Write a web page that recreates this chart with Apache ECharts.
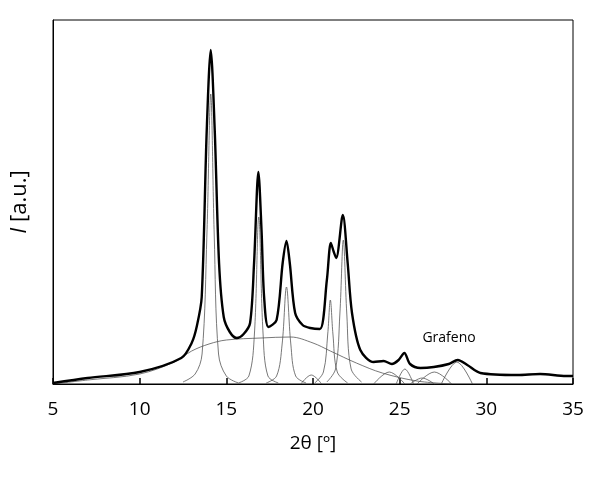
<!DOCTYPE html>
<html>
<head>
<meta charset="utf-8">
<script src="https://cdn.jsdelivr.net/npm/echarts@6/dist/echarts.min.js"></script>
<style>html,body{margin:0;padding:0;background:#fff}#chart{width:600px;height:487px}</style>
</head>
<body>
<div id="chart"></div>
<script>
// difractograma total y componentes del ajuste (2θ, intensidad)
var total = [[5,1],[7,6],[10,12],[12.4,26],[13,41],[13.3,58],[13.58,87],[13.87,254],[14.1,334],[14.33,254],[14.58,121],[14.85,67],[15.2,52],[15.6,46],[16,50],[16.37,61],[16.6,121],[16.85,212],[17.03,154],[17.18,87],[17.43,57],[17.9,64],[18.25,121],[18.47,143],[18.66,121],[18.97,71],[19.4,59],[19.84,56],[20.4,55],[20.8,104],[21.03,141],[21.2,132],[21.34,126],[21.72,169],[22.0,121],[22.25,71],[22.73,34],[23.5,22],[24.07,23],[24.55,20],[24.94,24],[25.27,31],[25.6,20],[26.2,16],[26.97,17],[27.83,20],[28.35,24],[28.9,19],[29.66,11],[31.8,9],[33.1,10],[34.6,8],[35,8]];
var amorfo = [[5,0],[7,4],[10,10],[12,22],[13,33],[14,40],[15,44],[17,46],[18.7,47],[20,41],[21,33],[22.5,21],[24,11],[26,3],[28,0]];
var p1 = [[12.5,2],[13.2,10],[13.6,30],[13.88,150],[14.1,290],[14.3,150],[14.55,30],[15,8],[15.7,1]];
var p2 = [[15.7,1],[16.3,8],[16.62,50],[16.87,167],[17.12,50],[17.4,8],[18,1]];
var p3 = [[17.3,1],[17.9,8],[18.22,40],[18.47,97],[18.72,40],[19,8],[19.6,1]];
var p4 = [[19.3,0],[19.9,9],[20.5,0]];
var p5 = [[20.1,1],[20.6,12],[20.85,50],[21.0,84],[21.15,50],[21.4,12],[22,1]];
var p6 = [[20.8,2],[21.3,15],[21.55,70],[21.75,144],[21.95,70],[22.2,15],[22.8,2]];
var p7 = [[23.5,0],[24.4,12],[25.3,0]];
var p8 = [[24.8,0],[25.3,15],[25.8,0]];
var p9 = [[25.6,0],[26.3,6],[27,0]];
var p10 = [[26,0],[27,12],[28,0]];
var p11 = [[27.4,0],[28.3,22],[29.2,0]];
var xTicks = [5,10,15,20,25,30,35];

var chart = echarts.init(document.getElementById('chart'));
var comps = [amorfo,p1,p2,p3,p4,p5,p6,p7,p8,p9,p10,p11].map(function (d) {
    return {type:'line', data:d, smooth:0.35, symbol:'none', silent:true,
        lineStyle:{color:'#555', width:0.8}};
});
comps.push({type:'line', data:total, smooth:0.3, symbol:'none', z:5,
    lineStyle:{color:'#000', width:2.4},
    markPoint:{symbol:'circle', symbolSize:0, silent:true,
        data:[{coord:[27.85,46], label:{show:true, formatter:'Grafeno', color:'#000', fontSize:14, fontFamily:'Open Sans'}}]}});
chart.setOption({
    animation:false,
    grid:{left:53, right:27, top:20, bottom:103, show:true, borderColor:'#000', borderWidth:1},
    xAxis:{type:'value', min:5, max:35, interval:5,
        name:'2θ [º]', nameLocation:'middle', nameGap:50,
        nameTextStyle:{fontSize:19, color:'#000', fontFamily:'Open Sans'},
        axisLine:{lineStyle:{color:'#000'}},
        axisTick:{inside:true, length:6, lineStyle:{color:'#000', width:1.5}},
        axisLabel:{fontSize:19, color:'#000', margin:16, fontFamily:'Open Sans',
            formatter:function (v) { return xTicks.indexOf(v) >= 0 ? v : ''; }},
        splitLine:{show:false}},
    yAxis:{type:'value', min:0, max:364,
        name:'{i|I} [a.u.]', nameLocation:'middle', nameGap:22, nameRotate:90,
        nameTextStyle:{fontSize:22, color:'#000', fontFamily:'Open Sans',
            rich:{i:{fontStyle:'italic', fontSize:22, fontFamily:'Open Sans'}}},
        axisLine:{show:true, lineStyle:{color:'#000'}}, axisTick:{show:false},
        axisLabel:{show:false}, splitLine:{show:false}},
    series:comps
});
</script>
</body>
</html>
